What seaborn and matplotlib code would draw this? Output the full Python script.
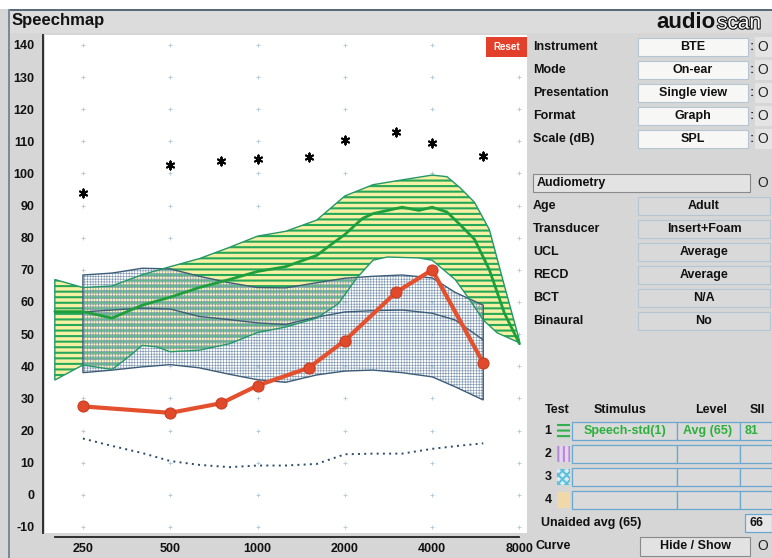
import numpy as np
import pandas as pd
import matplotlib
matplotlib.use("Agg")
import matplotlib.pyplot as plt
import seaborn as sns
from matplotlib.patches import Rectangle
from matplotlib.ticker import NullFormatter, FixedLocator
import matplotlib.patheffects as pe

# ---------------- data ----------------
thr_freq = [250, 500, 750, 1000, 1500, 2000, 3000, 4000, 6000]
thr_db = [27.5, 25.5, 28.5, 34, 39.5, 48, 63, 70, 41]
ucl_db = [94, 102.5, 104, 104.5, 105, 110.5, 113, 109.5, 105.5]

norm_freq = [250, 315, 400, 500, 630, 800, 1000, 1250, 1600, 2000, 2500, 3150, 4000, 5000, 6000]
norm_db = [17.5, 15.2, 13, 10.5, 9.3, 8.6, 9.1, 9.1, 9.6, 12.6, 12.8, 12.8, 14.3, 15.3, 16]

# aided speech (test 1)
sp_up_freq = [200, 250, 315, 400, 500, 630, 800, 1000, 1250, 1600, 2000, 2500, 3150, 4000, 4500, 5000, 5600, 6300, 7100, 8000]
sp_up_db = [67, 64.5, 65, 68.5, 71, 73.5, 77, 80.5, 82, 85.5, 93, 96.5, 98, 99.5, 99, 95.5, 91, 82.5, 65, 48]
sp_mid_freq = [200, 250, 315, 400, 500, 630, 800, 1000, 1250, 1600, 1800, 2000, 2300, 2500, 3150, 3600, 4000, 4500, 5000, 5600, 6300, 7100, 8000]
sp_mid_db = [57, 57, 55, 59, 61.5, 64.5, 67, 69.5, 71, 74.5, 78, 81, 86, 87.5, 89.5, 88.5, 89.5, 88, 84, 79.5, 70, 56.5, 47]
sp_lo_freq = [200, 250, 315, 360, 400, 450, 500, 630, 800, 1000, 1250, 1600, 1900, 2200, 2500, 2800, 3600, 4000, 4800, 5400, 6000, 6700, 8000]
sp_lo_db = [35.7, 40.4, 39, 43, 46.5, 46, 44.5, 45, 47, 50.5, 52.2, 55, 59.5, 67.5, 73, 74, 73.7, 73, 67, 60.6, 54.4, 50.4, 47.3]

# unaided speech region
ck_freq = [250, 315, 400, 500, 630, 800, 1000, 1250, 1600, 2000, 2500, 3150, 4000, 4800, 6000]
ck_up_db = [68.4, 69, 70.5, 70.3, 68, 66, 64.5, 64.4, 66, 67.4, 68, 68.4, 67.5, 63, 59]
ck_mid_db = [56.9, 57.5, 58.1, 57.8, 55.5, 54.5, 53.5, 53, 55.3, 56.9, 57.3, 57.5, 56.5, 54.4, 48.2]
ck_lo_db = [38, 38.8, 39.8, 40.5, 39.5, 37.5, 35.8, 35, 37.3, 38.5, 38.8, 38, 36.7, 33.6, 29.5]

oct_ticks = [250, 500, 1000, 2000, 4000, 8000]
oct_labels = ["250", "500", "1000", "2000", "4000", "8000"]
third_oct = [200, 250, 315, 400, 500, 630, 800, 1000, 1250, 1600, 2000, 2500, 3150, 4000, 5000, 6300, 8000]
db_ticks = list(range(-10, 150, 10))

# ---------------- style ----------------
sns.set_theme(style="white")
plt.rcParams["font.family"] = ["Liberation Sans", "DejaVu Sans"]
plt.rcParams["font.weight"] = "bold"
plt.rcParams["hatch.linewidth"] = 1.5

W, H = 772, 558
BG = "#d6d6d6"
fig = plt.figure(figsize=(W / 100, H / 100), dpi=100, facecolor=BG)


def R(x0, y0, x1, y1, **kw):
    fig.add_artist(Rectangle((x0 / W, 1 - y1 / H), (x1 - x0) / W, (y1 - y0) / H,
                             transform=fig.transFigure, **kw))


def T(x, y, s, **kw):
    kw.setdefault("va", "center")
    kw.setdefault("fontweight", "bold")
    fig.text(x / W, 1 - y / H, s, **kw)


# window chrome
R(0, 0, W, 9, facecolor="white", edgecolor="none")
R(8, 9, W, 33, facecolor="#dcdcdc", edgecolor="none")
R(8, 9, W, 10.5, facecolor="#5a6a7a", edgecolor="none")
R(8, 9, 9.5, H, facecolor="#7a8a9a", edgecolor="none")
T(12, 21, "Speechmap", fontsize=12, ha="left", color="#111")
T(716, 22, "audio", fontsize=16, ha="right", color="#111")
T(717, 23, "scan", fontsize=15, ha="left", color="white", fontweight="normal",
  path_effects=[pe.withStroke(linewidth=1.6, foreground="#111")])

# ---------------- plot ----------------
ax = fig.add_axes([45 / W, 1 - 533 / H, 482 / W, 498 / H])
ax.set_facecolor("white")
ax.set_xscale("log", base=2)
ax.set_xlim(185, 8492)
ax.set_ylim(-11.9, 143.1)

# grid dots
gx, gy = np.meshgrid(oct_ticks, db_ticks)
ax.scatter(gx.ravel(), gy.ravel(), marker="+", s=6, color="#b0c8da", linewidths=0.6, zorder=0.5)

# aided speech region (green stripes)
poly_x = np.concatenate([sp_up_freq, sp_lo_freq[::-1]])
poly_y = np.concatenate([sp_up_db, sp_lo_db[::-1]])
ax.fill(poly_x, poly_y, facecolor="#f6f0a2", edgecolor="#25a85a", hatch="---", linewidth=0, zorder=1)

# unaided region (checker)
with plt.rc_context({"hatch.linewidth": 0.45}):
    ck_x = np.concatenate([ck_freq, ck_freq[::-1]])
    ck_y = np.concatenate([ck_up_db, ck_lo_db[::-1]])
    ax.fill(ck_x, ck_y, facecolor=(1, 1, 1, 0.25), edgecolor="#8099b0", hatch="++++++", linewidth=0, zorder=1.5)
ax.fill(ck_x, ck_y, facecolor="none", edgecolor="#3d5c78", linewidth=1.0, zorder=2)
sns.lineplot(x=ck_freq, y=ck_mid_db, ax=ax, color="#3d5c78", linewidth=1.0, estimator=None, sort=False, zorder=2)

ax.fill(poly_x, poly_y, facecolor="none", edgecolor="#23976a", linewidth=1.0, zorder=2.2)
sns.lineplot(x=sp_mid_freq, y=sp_mid_db, ax=ax, color="#1f9e3c", linewidth=2.0, estimator=None, sort=False, zorder=2.5)

# normal threshold (dotted)
sns.lineplot(x=norm_freq, y=norm_db, ax=ax, color="#2b4a66", linewidth=1.4,
             linestyle=(0, (1, 2.2)), estimator=None, sort=False, zorder=3)

# threshold (red)
df_thr = pd.DataFrame({"freq": thr_freq, "db": thr_db})
sns.lineplot(data=df_thr, x="freq", y="db", ax=ax, color="#e4502e", linewidth=3, marker="o",
             markersize=8, markerfacecolor="#e04a2a", markeredgecolor="#c93c22",
             estimator=None, sort=False, zorder=4)

# UCL asterisks
df_ucl = pd.DataFrame({"freq": thr_freq, "db": ucl_db})
sns.scatterplot(data=df_ucl, x="freq", y="db", ax=ax, marker=(6, 2, 0), s=34,
                color="black", linewidth=1.4, zorder=4)

ax.set_xlabel("")
ax.set_ylabel("")
ax.xaxis.set_major_locator(FixedLocator(oct_ticks))
ax.set_xticklabels(oct_labels)
ax.xaxis.set_minor_locator(FixedLocator(third_oct))
ax.xaxis.set_minor_formatter(NullFormatter())
ax.set_yticks(db_ticks)
ax.set_yticklabels([str(v) for v in db_ticks])

for s in ["top", "right"]:
    ax.spines[s].set_visible(False)
ax.spines["left"].set_position(("outward", 1.5))
ax.spines["bottom"].set_position(("outward", 3))
ax.spines["bottom"].set_bounds(200, 8000)
for s in ["left", "bottom"]:
    ax.spines[s].set_color("#222")
    ax.spines[s].set_linewidth(1.3)
ax.tick_params(axis="both", which="both", direction="out", color="#222", width=1.1,
               labelsize=9, labelcolor="#111")
ax.tick_params(axis="y", length=4, pad=2)
ax.tick_params(axis="x", which="major", length=3.5, pad=0.5)
ax.tick_params(axis="x", which="minor", length=2.5)
for lab in ax.get_xticklabels() + ax.get_yticklabels():
    lab.set_fontweight("bold")

# Reset button
R(486, 37, 527, 57, facecolor="#e2402a", edgecolor="none")
T(506.5, 47, "Reset", fontsize=7, ha="center", color="white")

# ---------------- right panel ----------------
rows_top = ["Instrument", "Mode", "Presentation", "Format", "Scale (dB)"]
vals_top = ["BTE", "On-ear", "Single view", "Graph", "SPL"]
for i, (lab, val) in enumerate(zip(rows_top, vals_top)):
    y = 47 + i * 23
    T(533, y, lab, fontsize=9, ha="left", color="#111")
    R(638, y - 9, 748, y + 9, facecolor="#f7f7f5", edgecolor="#b5c5d2", linewidth=0.8)
    T(693, y, val, fontsize=9, ha="center", color="#111")
    T(750, y, ":", fontsize=9, ha="left", color="#333")
    R(755, y - 10, W, y + 10, facecolor="#e4e4e4", edgecolor="none")
    T(763, y, "O", fontsize=10, ha="center", color="#222", fontweight="normal")

R(533, 174, 750, 192, facecolor="#e3e3e3", edgecolor="#8a8a8a", linewidth=0.8)
T(537, 183, "Audiometry", fontsize=9, ha="left", color="#111")
T(763, 183, "O", fontsize=10, ha="center", color="#222", fontweight="normal")

rows_aud = ["Age", "Transducer", "UCL", "RECD", "BCT", "Binaural"]
vals_aud = ["Adult", "Insert+Foam", "Average", "Average", "N/A", "No"]
for i, (lab, val) in enumerate(zip(rows_aud, vals_aud)):
    y = 206 + i * 23
    T(533, y, lab, fontsize=9, ha="left", color="#111")
    R(638, y - 9, 770, y + 9, facecolor="#d9d9d9", edgecolor="#b4c6d4", linewidth=0.8)
    T(704, y, val, fontsize=9, ha="center", color="#111")

# test table
T(557, 410, "Test", fontsize=9, ha="center", color="#111")
T(620, 410, "Stimulus", fontsize=9, ha="center", color="#111")
T(711, 410, "Level", fontsize=9, ha="center", color="#111")
T(757, 410, "SII", fontsize=9, ha="center", color="#111")
icon_style = [dict(facecolor="none", edgecolor="#2fb04a", hatch="---"),
              dict(facecolor="#e4d4ee", edgecolor="#b888d8", hatch="|||"),
              dict(facecolor="#d8eef4", edgecolor="#5cc0dc", hatch="xxxx"),
              dict(facecolor="#f0d8a8", edgecolor="none")]
stim_vals = ["Speech-std(1)", "", "", ""]
level_vals = ["Avg (65)", "", "", ""]
sii_vals = ["81", "", "", ""]
for i in range(4):
    y = 431 + i * 23
    T(548, y, str(i + 1), fontsize=9, ha="center", color="#111")
    R(557, y - 8, 570, y + 8, linewidth=0, **icon_style[i])
    R(572, y - 9, 677, y + 9, facecolor="#dadada", edgecolor="#6aa8d0", linewidth=0.9)
    R(677, y - 9, 740, y + 9, facecolor="#dadada", edgecolor="#6aa8d0", linewidth=0.9)
    R(740, y - 9, 772, y + 9, facecolor="#dadada", edgecolor="#6aa8d0", linewidth=0.9)
    T(625, y, stim_vals[i], fontsize=9, ha="center", color="#2cb03c")
    T(708, y, level_vals[i], fontsize=9, ha="center", color="#2cb03c")
    T(745, y, sii_vals[i], fontsize=9, ha="left", color="#2cb03c")

T(541, 523, "Unaided avg (65)", fontsize=9, ha="left", color="#111")
R(745, 514, 772, 532, facecolor="#e6e6e6", edgecolor="#6aa8d0", linewidth=0.9)
T(757, 523, "66", fontsize=9, ha="center", color="#111")

T(535, 546, "Curve", fontsize=9, ha="left", color="#111")
R(640, 537, 750, 556, facecolor="#e2e2e2", edgecolor="#8a8a8a", linewidth=0.8)
T(695, 546, "Hide / Show", fontsize=9, ha="center", color="#111")
T(763, 546, "O", fontsize=10, ha="center", color="#222", fontweight="normal")

fig.savefig("out.png", dpi=100, facecolor=BG)
